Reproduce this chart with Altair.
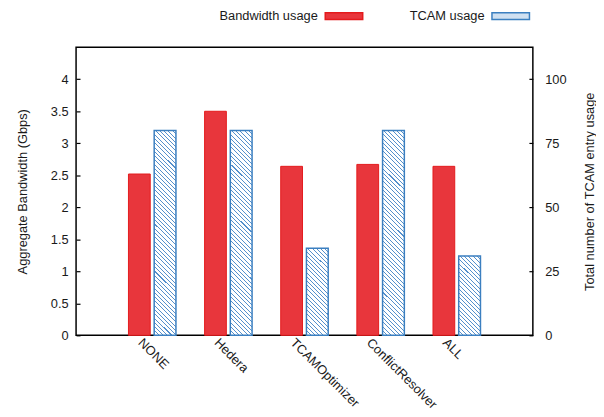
import altair as alt

categories = ["NONE", "Hedera", "TCAMOptimizer", "ConflictResolver", "ALL"]
bandwidth = [2.52, 3.50, 2.64, 2.67, 2.64]
tcam = [80, 80, 34, 80, 31]
series = ["Bandwidth usage", "TCAM usage"]
bw_ticks = [0, 0.5, 1, 1.5, 2, 2.5, 3, 3.5, 4]
tcam_ticks = [0, 25, 50, 75, 100]

RED = "#e41a1c"
RED_FILL = "#e8363c"
BLUE = "#3b7fc0"
HATCH = "#5590cc"
BLUE_FILL = "#cfe0f1"
FONT = "Liberation Sans"
TXT = "#1a1a1a"

W, H = 463, 292
BW_MAX = 4.5
TCAM_MAX = 112.5
BAR_W = 22


def hatch(value):
    """Diagonal '\\' hatching as a repeated linear gradient in the bar's box."""
    h = value / TCAM_MAX * H
    w = BAR_W
    n = max(1, round((w + h) / 4.3))
    f = 0.24
    stops = []
    for k in range(n):
        a, b, c = k / n, (k + f) / n, (k + 1) / n
        stops += [
            {"offset": a, "color": HATCH},
            {"offset": b, "color": HATCH},
            {"offset": b, "color": "#ffffff"},
            {"offset": c, "color": "#ffffff"},
        ]
    s = w * w + h * h
    return {"gradient": "linear", "x1": 0, "y1": 1,
            "x2": w * (w + h) / s, "y2": 1 - h * (w + h) / s, "stops": stops}


bw_rows = [{"category": c, "value": v, "series": series[0]} for c, v in zip(categories, bandwidth)]
tc_rows = [{"category": c, "value": v, "series": series[1], "grad": hatch(v)}
           for c, v in zip(categories, tcam)]

x_enc = alt.X(
    "category:N", sort=categories,
    scale=alt.Scale(paddingInner=0, paddingOuter=0.5),
    axis=alt.Axis(title=None, labelAngle=45, labelAlign="left", labelBaseline="middle",
                  labelOffset=-12, labelPadding=5, ticks=False, domain=False,
                  labelOverlap=False, labelBound=False),
)
xoff = alt.XOffset("series:N", scale=alt.Scale(domain=series, paddingInner=0.154, paddingOuter=0.557))

legend = alt.Legend(
    title=None, orient="none", direction="horizontal", legendX=205, legendY=-51.5,
    symbolType="M1.45,-0.18H3.45V0.18H1.45Z", symbolSize=1444, symbolStrokeWidth=1.5,
    labelAlign="right", labelOffset=0, columnPadding=44, labelFontSize=13,
    labelFont=FONT, labelColor=TXT,
)
fill_scale = alt.Scale(domain=series, range=[RED_FILL, BLUE_FILL])
stroke_scale = alt.Scale(domain=series, range=[RED, BLUE])
bw_scale = alt.Scale(domain=[0, BW_MAX], nice=False, zero=True)
tc_scale = alt.Scale(domain=[0, TCAM_MAX], nice=False, zero=True)

bw_bars = alt.Chart(alt.Data(values=bw_rows)).mark_bar(strokeWidth=1).encode(
    x=x_enc, xOffset=xoff,
    y=alt.Y("value:Q", scale=bw_scale,
            axis=alt.Axis(orient="left", values=bw_ticks, format="~g", ticks=False, domain=False,
                          labelPadding=8, title="Aggregate Bandwidth (Gbps)", titleAngle=270,
                          titleX=-54, titleY=H / 2, titleAlign="center", titleBaseline="middle")),
    fill=alt.Fill("series:N", scale=fill_scale, legend=legend),
    stroke=alt.Stroke("series:N", scale=stroke_scale, legend=legend),
)
bw_tick_layer = alt.Chart(alt.Data(values=bw_rows)).mark_point(opacity=0).encode(
    x=x_enc,
    y=alt.Y("value:Q", scale=bw_scale,
            axis=alt.Axis(orient="left", values=bw_ticks, offset=-4, tickSize=4, labels=False,
                          domain=False, title=None, tickColor="black", tickWidth=1.2)),
)

tc_bars = alt.Chart(alt.Data(values=tc_rows)).mark_bar(strokeWidth=1.5).encode(
    x=x_enc, xOffset=xoff,
    y=alt.Y("value:Q", scale=tc_scale,
            axis=alt.Axis(orient="right", values=tcam_ticks, ticks=False, domain=False,
                          labelPadding=12, title="Total number of TCAM entry usage", titleAngle=270,
                          titleX=57, titleY=H / 2, titleAlign="center", titleBaseline="middle")),
    fill=alt.Fill("grad:N", scale=None, legend=None),
    stroke=alt.Stroke("series:N", scale=stroke_scale, legend=legend),
)
tc_tick_layer = alt.Chart(alt.Data(values=tc_rows)).mark_point(opacity=0).encode(
    x=x_enc,
    y=alt.Y("value:Q", scale=tc_scale,
            axis=alt.Axis(orient="right", values=tcam_ticks, offset=-4, tickSize=4, labels=False,
                          domain=False, title=None, tickColor="black", tickWidth=1.2)),
)

left = alt.layer(bw_bars, bw_tick_layer).resolve_axis(y="independent")
right = alt.layer(tc_bars, tc_tick_layer).resolve_axis(y="independent")

chart = alt.layer(left, right).resolve_scale(y="independent").properties(
    width=W, height=H,
    autosize=alt.AutoSizeParams(type="none"),
    padding={"left": 69, "top": 37, "right": 64, "bottom": 81},
).configure_view(stroke="black", strokeWidth=1.5).configure_axis(
    labelFont=FONT, labelFontSize=13, labelColor=TXT,
    titleFont=FONT, titleFontSize=13, titleColor=TXT, titleFontWeight="normal",
    grid=False,
)

chart.save("out.html", embed_options={"renderer": "svg", "actions": False})
